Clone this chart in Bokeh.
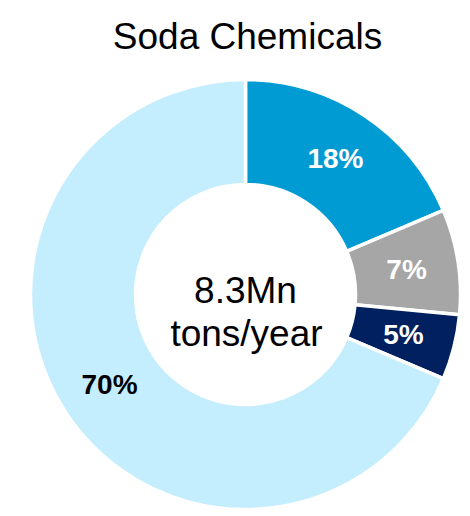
import math
from bokeh.plotting import figure
from bokeh.models import Range1d, ColumnDataSource, Label
from bokeh.core.properties import value
from bokeh.embed import file_html
from bokeh.resources import INLINE

segments = ["Segment A", "Segment B", "Segment C", "Segment D"]
shares = [18.6, 7.9, 4.9, 68.6]
labels = ["18%", "7%", "5%", "70%"]
colors = ["#009BD3", "#A6A6A6", "#002060", "#C4EDFD"]
label_colors = ["white", "white", "white", "black"]
title_text = "Soda Chemicals"
center_lines = ["8.3Mn", "tons/year"]

W, H = 470, 516
CX, CY = 245, H - 294
R_OUT, R_IN = 215, 110
R_LAB = 163

total = sum(shares)
starts, ends, mids = [], [], []
cum = 0.0
for s in shares:
    a0 = math.pi / 2 - 2 * math.pi * cum / total
    cum += s
    a1 = math.pi / 2 - 2 * math.pi * cum / total
    starts.append(a0)
    ends.append(a1)
    mids.append((a0 + a1) / 2)

src = ColumnDataSource(dict(
    seg=segments, start=starts, end=ends, color=colors,
    lx=[CX + R_LAB * math.cos(m) for m in mids],
    ly=[CY + R_LAB * math.sin(m) for m in mids],
    lab=labels, lcol=label_colors,
))

p = figure(width=W, height=H, x_range=Range1d(0, W), y_range=Range1d(0, H),
           output_backend="svg", toolbar_location=None,
           min_border=0, outline_line_color=None)
p.axis.visible = False
p.grid.visible = False
p.background_fill_color = "white"
p.border_fill_color = "white"

p.annular_wedge(x=CX, y=CY, inner_radius=R_IN, outer_radius=R_OUT,
                start_angle="start", end_angle="end", direction="clock",
                fill_color="color", line_color="white", line_width=3.5,
                source=src)

p.text(x="lx", y="ly", text="lab", text_color="lcol",
       text_font=value("Liberation Sans"), text_font_size="28px",
       text_font_style="bold", text_align="center", text_baseline="middle",
       source=src)

p.add_layout(Label(x=W / 2 + 12, y=H - 36, text=title_text,
                   text_font="Liberation Sans", text_font_size="37px",
                   text_color="black", text_align="center",
                   text_baseline="alphabetic"))
p.add_layout(Label(x=CX, y=H - 290, text=center_lines[0],
                   text_font="Liberation Sans", text_font_size="37px",
                   text_color="black", text_align="center",
                   text_baseline="alphabetic"))
p.add_layout(Label(x=CX + 1, y=H - 333, text=center_lines[1],
                   text_font="Liberation Sans", text_font_size="37px",
                   text_color="black", text_align="center",
                   text_baseline="alphabetic"))

open("out.html", "w").write(file_html(p, INLINE))
